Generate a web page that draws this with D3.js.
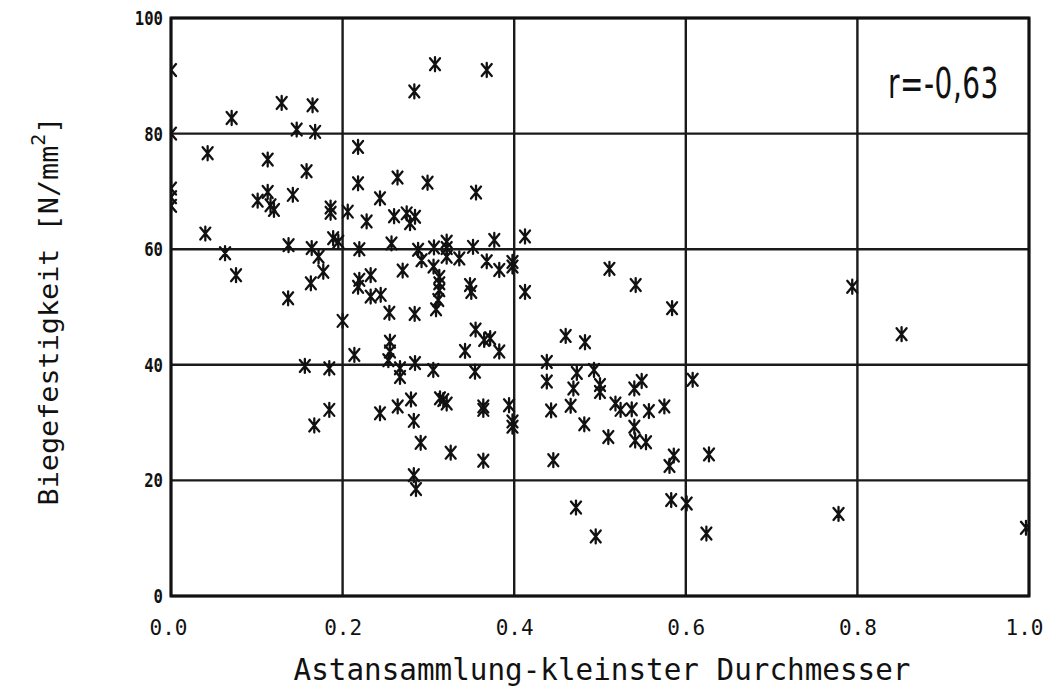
<!DOCTYPE html>
<html><head><meta charset="utf-8">
<script src="https://cdn.jsdelivr.net/npm/d3@7"></script>
<style>html,body{margin:0;padding:0;background:#fff;}svg{display:block;}</style>
</head><body>
<script>
// ---- data (x: Astansammlung-kleinster Durchmesser, y: Biegefestigkeit N/mm²)
const xVals = [0,0,0,0,0,0.040,0.0427,0.063,0.0707,0.0758,0.101,0.1127,0.1127,0.116,0.12,0.129,0.1365,0.137,0.142,0.1465,0.156,0.158,0.163,0.164,0.165,0.167,0.168,0.172,0.1775,0.1845,0.1845,0.186,0.186,0.189,0.195,0.200,0.206,0.2137,0.218,0.218,0.2195,0.2195,0.218,0.228,0.2327,0.2327,0.2436,0.2444,0.2436,0.2545,0.2552,0.2552,0.2533,0.257,0.260,0.264,0.2642,0.2669,0.2669,0.270,0.2747,0.2786,0.2844,0.2797,0.2836,0.284,0.2844,0.283,0.283,0.2855,0.288,0.291,0.292,0.299,0.3057,0.3065,0.306,0.3077,0.3089,0.3127,0.3127,0.3127,0.3115,0.3135,0.3174,0.3213,0.3213,0.3213,0.3213,0.326,0.336,0.3427,0.3485,0.350,0.352,0.355,0.3543,0.3555,0.364,0.364,0.364,0.365,0.368,0.368,0.372,0.3768,0.3826,0.3826,0.394,0.398,0.398,0.398,0.398,0.4126,0.4126,0.438,0.438,0.443,0.4456,0.46,0.4658,0.469,0.472,0.473,0.4817,0.4825,0.493,0.495,0.5,0.5,0.5097,0.511,0.518,0.524,0.537,0.540,0.54,0.541,0.5416,0.5486,0.5536,0.557,0.575,0.581,0.583,0.584,0.586,0.601,0.608,0.624,0.627,0.778,0.794,0.8515,0.9965];
const yVals = [91,80,70.5,69,67.5,62.7,76.6,59.3,82.7,55.5,68.4,75.5,69.9,67.6,66.8,85.3,51.5,60.7,69.4,80.7,39.8,73.5,54.1,60.2,84.9,29.5,80.3,58.7,56.1,39.4,32.2,67.2,66.3,61.9,61.3,47.6,66.5,41.7,77.7,71.4,60.0,54.7,53.5,64.8,55.5,51.8,68.8,52.1,31.6,49.0,44.0,42.3,40.8,61.0,65.7,72.4,32.8,39.4,37.9,56.3,66.2,64.5,65.6,34.0,87.3,48.8,40.3,30.3,20.9,18.5,59.9,26.5,58.1,71.5,39.1,60.3,57.0,92.0,49.6,55.2,54.1,52.9,51.2,34.2,33.9,33.3,61.3,60.2,58.7,24.8,58.4,42.4,53.8,52.6,60.4,46.1,38.8,69.8,32.8,32.2,23.4,44.3,91.0,57.9,44.6,61.6,56.4,42.3,33.0,57.8,57.0,30.2,29.3,62.2,52.6,40.5,37.1,32.1,23.5,45.0,32.9,35.9,15.3,38.6,29.7,43.9,39.1,10.3,36.5,35.3,27.5,56.6,33.3,32.2,32.3,35.9,29.3,26.9,53.8,37.2,26.6,32.0,32.8,22.5,16.6,49.8,24.3,16.0,37.4,10.8,24.5,14.2,53.5,45.3,11.8];
const xTicks = [0,0.2,0.4,0.6,0.8,1.0];
const xTickLabels = ["0.0","0.2","0.4","0.6","0.8","1.0"];
const yTicks = [0,20,40,60,80,100];
const xTitle = "Astansammlung-kleinster Durchmesser";
const yTitleMain = "Biegefestigkeit [N/mm";
const yTitleSup = "2";
const yTitleEnd = "]";
const rLabel = "r=-0,63";

const W = 1052, H = 692;
const pLeft = 171, pRight = 1029, pTop = 18, pBottom = 596;
const svg = d3.select("body").append("svg").attr("width", W).attr("height", H);
const x = d3.scaleLinear().domain([0,1]).range([pLeft,pRight]);
const y = d3.scaleLinear().domain([0,100]).range([pBottom,pTop]);

// grid
const g = svg.append("g");
g.selectAll("line.v").data(xTicks).join("line")
  .attr("x1", d=>x(d)).attr("x2", d=>x(d)).attr("y1", pTop).attr("y2", pBottom)
  .attr("stroke", "#1a1a1a").attr("stroke-width", 2.4);
g.selectAll("line.h").data(yTicks).join("line")
  .attr("y1", d=>y(d)).attr("y2", d=>y(d)).attr("x1", pLeft).attr("x2", pRight)
  .attr("stroke", "#1a1a1a").attr("stroke-width", 2.4);
g.append("rect").attr("x", pLeft).attr("y", pTop).attr("width", pRight-pLeft).attr("height", pBottom-pTop)
  .attr("fill", "none").attr("stroke", "#111").attr("stroke-width", 3);

// axes labels (using d3 axes for tick placement)
const yAxis = svg.append("g").attr("transform", `translate(${pLeft},0)`)
  .call(d3.axisLeft(y).tickValues(yTicks).tickSize(0).tickPadding(8).tickFormat(d3.format("d")));
yAxis.select(".domain").remove();
yAxis.selectAll("text").attr("font-family","DejaVu Sans Mono").attr("font-size",20).attr("font-weight","bold").attr("fill","#111")
  .attr("textLength", d=>String(d).length*9.4).attr("lengthAdjust","spacingAndGlyphs");

const xAxis = svg.append("g").attr("transform", `translate(0,${pBottom})`)
  .call(d3.axisBottom(x).tickValues(xTicks).tickSize(0).tickPadding(24).tickFormat((d,i)=>xTickLabels[i]));
xAxis.select(".domain").remove();
xAxis.selectAll("text").attr("font-family","DejaVu Sans Mono").attr("font-size",21).attr("fill","#111");
xAxis.selectAll(".tick").filter((d,i)=>i===0).select("text").attr("dx",-3);
xAxis.selectAll(".tick").filter((d,i)=>i===xTicks.length-1).select("text").attr("dx",-5);

// titles
svg.append("text").attr("x", 602).attr("y", 680).attr("text-anchor","middle")
  .attr("font-family","DejaVu Sans Mono").attr("font-size",30).attr("fill","#111")
  .attr("textLength",617).attr("lengthAdjust","spacingAndGlyphs").text(xTitle);

const yt = svg.append("text").attr("transform","translate(58,311) rotate(-90)").attr("text-anchor","middle")
  .attr("font-family","DejaVu Sans Mono").attr("font-size",27).attr("fill","#111")
  .attr("textLength",389).attr("lengthAdjust","spacingAndGlyphs");
yt.append("tspan").text(yTitleMain);
yt.append("tspan").attr("dy",-13).attr("font-size",19).text(yTitleSup);
yt.append("tspan").attr("dy",13).text(yTitleEnd);

// correlation label: condensed look via vertical stretch
svg.append("text").attr("transform","translate(888,98) scale(1,1.5)")
  .attr("font-family","DejaVu Sans").attr("font-size",28).attr("fill","#111")
  .attr("letter-spacing",0.5).text(rLabel);

// points (asterisk markers), clipped to plot frame
svg.append("clipPath").attr("id","clip").append("rect")
  .attr("x",pLeft).attr("y",pTop).attr("width",pRight-pLeft).attr("height",pBottom-pTop);
const pts = xVals.map((v,i)=>({x:v,y:yVals[i]}));
const star = "M0,-7L0,7M-5,-6L5,6M5,-6L-5,6";
svg.append("g").attr("clip-path","url(#clip)").selectAll("path").data(pts).join("path")
  .attr("transform", d=>`translate(${x(d.x)},${y(d.y)})`)
  .attr("d", star).attr("fill","none").attr("stroke","#111").attr("stroke-width",2.3)
  .attr("stroke-linecap","round");
</script>
</body></html>
